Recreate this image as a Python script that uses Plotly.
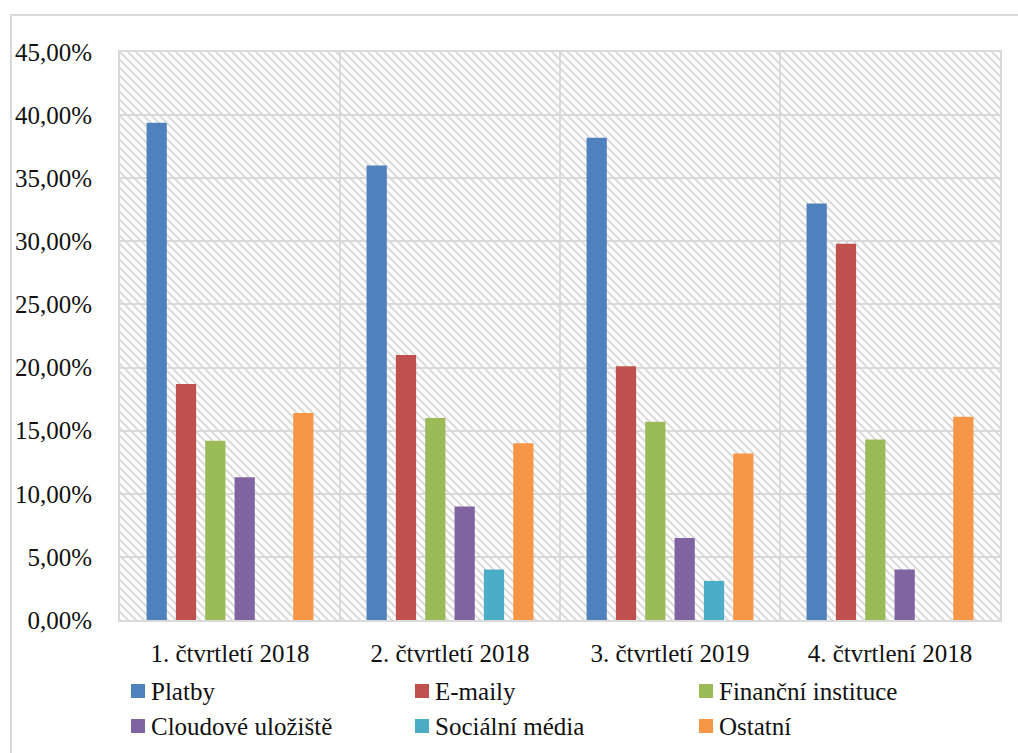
import base64
import plotly.graph_objects as go

categories = ["1. čtvrtletí 2018", "2. čtvrtletí 2018", "3. čtvrtletí 2019", "4. čtvrtlení 2018"]
series_names = ["Platby", "E-maily", "Finanční instituce", "Cloudové uložiště", "Sociální média", "Ostatní"]
platby = [0.394, 0.360, 0.382, 0.330]
emaily = [0.187, 0.210, 0.201, 0.298]
financni = [0.142, 0.160, 0.157, 0.143]
cloud = [0.113, 0.090, 0.065, 0.040]
socialni = [0.0, 0.040, 0.031, 0.0]
ostatni = [0.164, 0.140, 0.132, 0.161]
colors = ["#4f81bd", "#c0504d", "#9bbb59", "#8064a2", "#4bacc6", "#f79646"]
y_ticks = [0, 0.05, 0.10, 0.15, 0.20, 0.25, 0.30, 0.35, 0.40, 0.45]

W, H = 1018, 753
ML, MR, MT, MB = 120, 18, 52, 133
PW, PH = W - ML - MR, H - MT - MB

FONT = "Liberation Serif, Times New Roman, serif"


def px_x(px):
    return (px - ML) / PW


def px_y(py):
    return (MT + PH - py) / PH


fig = go.Figure()
for name, vals, col in zip(series_names, [platby, emaily, financni, cloud, socialni, ostatni], colors):
    fig.add_trace(go.Bar(name=name, x=categories, y=vals, marker=dict(color=col, line=dict(width=0))))

# hatched plot-area background
svg = (
    f'<svg xmlns="http://www.w3.org/2000/svg" width="{PW}" height="{PH}" viewBox="0 0 {PW} {PH}" preserveAspectRatio="none">'
    '<defs><pattern id="p" width="8" height="8" patternUnits="userSpaceOnUse">'
    '<path d="M-2,6 l4,4 M0,0 l8,8 M6,-2 l4,4" stroke="#dadada" stroke-width="2"/>'
    '</pattern></defs>'
    f'<rect width="{PW}" height="{PH}" fill="white"/><rect width="{PW}" height="{PH}" fill="url(#p)"/></svg>'
)
src = "data:image/svg+xml;base64," + base64.b64encode(svg.encode()).decode()
fig.add_layout_image(dict(source=src, xref="paper", yref="paper", x=0, y=1, sizex=1, sizey=1,
                          xanchor="left", yanchor="top", sizing="stretch", layer="below"))

# outer chart border (top and left visible)
fig.add_shape(type="rect", xref="paper", yref="paper",
              x0=px_x(11), x1=px_x(W + 20), y0=px_y(15), y1=px_y(H + 20),
              line=dict(color="#d9d9d9", width=2), fillcolor="rgba(0,0,0,0)", layer="below")

# legend (3 columns x 2 rows) drawn as swatches + text
COL_W, ROW_H = 284, 35
for i, (name, col) in enumerate(zip(series_names, colors)):
    r, c = divmod(i, 3)
    cx = 131 + c * COL_W
    cy = 691 + r * ROW_H
    fig.add_shape(type="rect", xref="paper", yref="paper",
                  x0=px_x(cx), x1=px_x(cx + 14), y0=px_y(cy - 7), y1=px_y(cy + 7),
                  line=dict(width=0), fillcolor=col, layer="above")
    fig.add_annotation(xref="paper", yref="paper", x=px_x(cx + 18), y=px_y(cy),
                       xanchor="left", yanchor="middle", showarrow=False, text=name,
                       font=dict(family=FONT, size=25, color="#111111"))

fig.update_layout(
    width=W, height=H,
    margin=dict(l=ML, r=MR, t=MT, b=MB),
    paper_bgcolor="white", plot_bgcolor="white",
    separators=", ",
    barmode="group", bargap=0.2, bargroupgap=0.31,
    font=dict(family=FONT, size=25, color="#111111"),
    showlegend=False,
)
fig.update_xaxes(type="category", tickson="boundaries", showgrid=True, gridcolor="#d9d9d9", gridwidth=2,
                 showline=True, linecolor="#d9d9d9", linewidth=2, mirror=True, ticks="",
                 ticklabelstandoff=10, tickfont=dict(family=FONT, size=25, color="#111111"))
fig.update_yaxes(range=[0, 0.45], tickvals=y_ticks, tickformat=".2%", showgrid=True, gridcolor="#d9d9d9",
                 gridwidth=2, showline=True, linecolor="#d9d9d9", linewidth=2, mirror=True, ticks="",
                 zeroline=False, ticklabelstandoff=21, tickfont=dict(family=FONT, size=25, color="#111111"))

fig.write_html("out.html")
